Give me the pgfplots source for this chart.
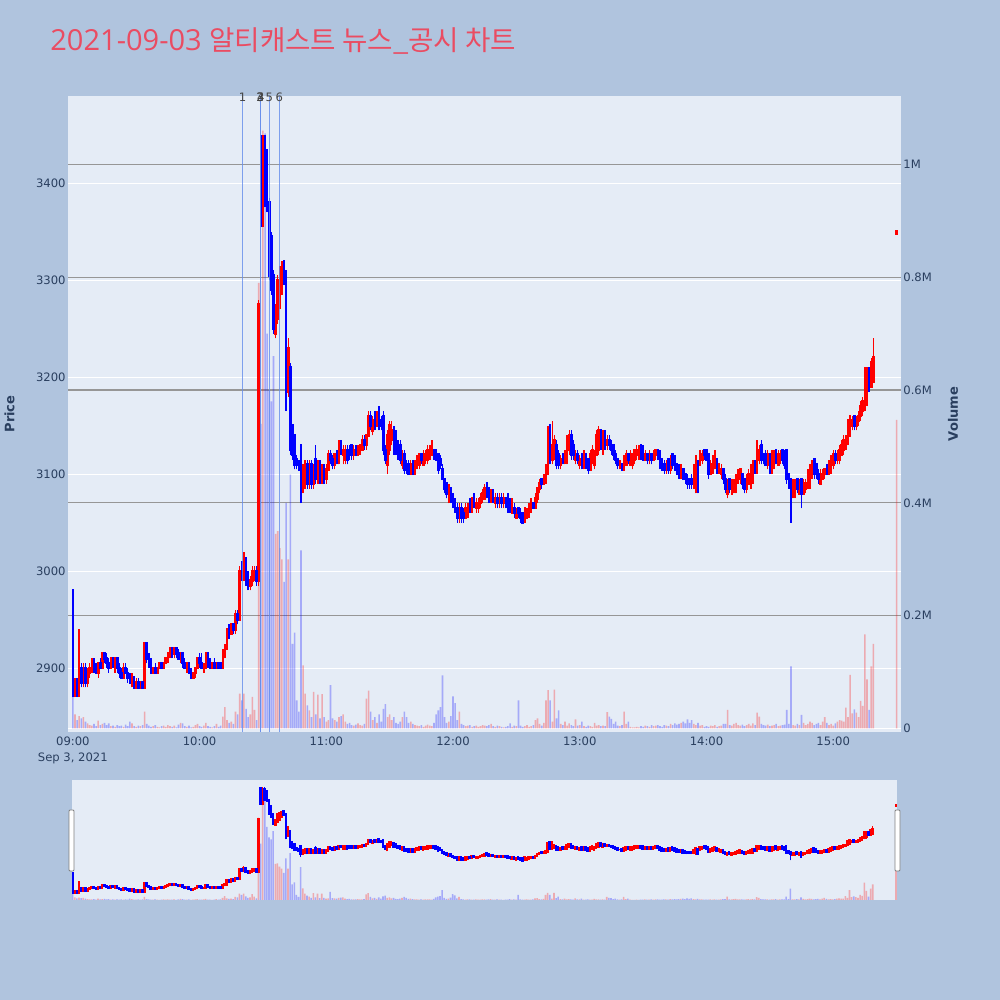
\documentclass[border=0pt]{standalone}
\usepackage{pgfplots}
\usepackage{pgfplotstable}
\usepackage{fontspec}
\pgfplotsset{compat=1.18}
\setmainfont{DejaVu Sans}
\newfontfamily\titlefont{Open Sans}
\newfontfamily\cjk{Noto Sans CJK KR}

\definecolor{pagebg}{RGB}{176,196,222}
\definecolor{plotbg}{RGB}{229,236,246}
\definecolor{upred}{RGB}{255,0,0}
\definecolor{downblue}{RGB}{0,0,255}
\definecolor{ticktext}{RGB}{42,63,95}
\definecolor{titlered}{RGB}{234,76,98}
\definecolor{volgrid}{RGB}{150,150,150}
\definecolor{newsline}{RGB}{100,140,235}
\definecolor{newstext}{RGB}{68,68,68}

\tikzset{newslab/.style={font=\fontsize{5.8}{7}\selectfont, text=newstext, inner sep=0pt}}

% one row per minute after 09:00: open, high, low, close, volume
\pgfplotstableread{
t o h l c v
0 2980 2980 2870 2875 60000
1 2875 2890 2870 2880 25000
2 2880 2890 2870 2875 15000
3 2875 2940 2870 2900 22000
4 2900 2905 2880 2885 18000
5 2885 2905 2880 2900 20000
6 2900 2905 2880 2885 12000
7 2885 2900 2880 2895 9000
8 2895 2905 2890 2900 6000
9 2900 2910 2895 2905 5000
10 2905 2910 2895 2900 8000
11 2900 2905 2895 2895 4000
12 2895 2905 2890 2905 14000
13 2905 2910 2900 2900 6000
14 2900 2915 2900 2915 8000
15 2915 2915 2905 2910 10000
16 2910 2915 2900 2905 6000
17 2905 2910 2895 2900 9000
18 2900 2910 2900 2910 4000
19 2910 2910 2900 2905 5000
20 2905 2910 2895 2910 3000
21 2910 2910 2895 2900 6000
22 2900 2905 2890 2895 4000
23 2895 2900 2890 2890 5000
24 2890 2905 2890 2900 3000
25 2900 2905 2895 2895 7000
26 2895 2900 2885 2890 4000
27 2890 2895 2885 2885 12000
28 2885 2895 2880 2890 9000
29 2890 2890 2880 2880 4000
30 2880 2890 2880 2885 3000
31 2885 2890 2880 2880 5000
32 2880 2885 2880 2885 4000
33 2885 2885 2880 2880 6000
34 2880 2925 2880 2925 30000
35 2925 2925 2905 2910 8000
36 2910 2915 2900 2905 5000
37 2905 2910 2895 2895 3000
38 2895 2900 2895 2900 4000
39 2900 2905 2895 2895 6000
40 2895 2900 2895 2900 3000
41 2900 2905 2900 2905 2000
42 2905 2905 2900 2900 4000
43 2900 2905 2900 2905 5000
44 2905 2910 2905 2910 3000
45 2910 2915 2905 2915 6000
46 2915 2920 2910 2920 4000
47 2920 2920 2910 2915 3000
48 2915 2920 2910 2920 5000
49 2920 2920 2910 2915 2000
50 2915 2920 2910 2910 7000
51 2910 2915 2905 2915 10000
52 2915 2915 2900 2905 9000
53 2905 2910 2900 2900 4000
54 2900 2905 2895 2905 3000
55 2905 2905 2895 2895 5000
56 2895 2900 2890 2890 2000
57 2890 2895 2890 2895 3000
58 2895 2900 2890 2900 6000
59 2900 2910 2900 2910 8000
60 2910 2915 2900 2905 4000
61 2905 2915 2900 2900 3000
62 2900 2905 2895 2900 5000
63 2900 2915 2900 2915 10000
64 2915 2915 2900 2905 4000
65 2905 2910 2900 2900 3000
66 2900 2905 2900 2905 2000
67 2905 2910 2900 2900 4000
68 2900 2905 2900 2905 8000
69 2905 2905 2900 2900 3000
70 2905 2905 2900 2900 5000
71 2900 2920 2900 2915 21000
72 2915 2925 2910 2920 38000
73 2920 2940 2920 2940 15000
74 2940 2945 2930 2935 10000
75 2935 2945 2935 2945 12000
76 2945 2945 2935 2940 8000
77 2940 2960 2935 2955 30000
78 2955 2960 2945 2950 25000
79 2950 3005 2950 3000 62000
80 3000 3010 2990 2995 50000
81 2995 3020 2990 3010 62000
82 3010 3015 2985 2990 35000
83 2990 3000 2980 2985 20000
84 2985 2995 2980 2990 25000
85 2990 3005 2985 3000 56000
86 2995 3005 2990 3000 33000
87 3000 3005 2985 2990 15000
88 2990 3280 2985 3275 790000
89 3445 3450 3355 3360 540000
90 3360 3450 3355 3440 1060000
91 3440 3450 3375 3380 1055000
92 3430 3435 3370 3375 700000
93 3380 3385 3300 3305 600000
94 3345 3350 3285 3290 580000
95 3305 3310 3245 3250 660000
96 3245 3275 3240 3270 345000
97 3260 3305 3255 3300 350000
98 3275 3315 3270 3310 320000
99 3290 3320 3285 3315 300000
100 3320 3320 3295 3300 260000
101 3305 3310 3165 3175 400000
102 3185 3240 3180 3230 300000
103 3210 3215 3120 3125 450000
104 3150 3150 3115 3120 150000
105 3140 3140 3105 3110 170000
106 3115 3120 3105 3110 50000
107 3110 3115 3105 3105 30000
108 3130 3130 3070 3085 316000
109 3085 3110 3080 3105 112000
110 3095 3115 3085 3110 62000
111 3110 3115 3085 3090 41000
112 3090 3115 3085 3110 32000
113 3110 3115 3085 3090 20000
114 3090 3110 3085 3105 65000
115 3115 3130 3090 3095 25000
116 3095 3115 3090 3110 60000
117 3110 3115 3090 3095 18000
118 3095 3110 3090 3105 61000
119 3105 3110 3090 3095 20000
120 3095 3110 3090 3105 12000
121 3105 3125 3105 3120 15000
122 3120 3125 3110 3115 77000
123 3115 3120 3105 3110 18000
124 3110 3120 3105 3120 15000
125 3120 3125 3110 3115 12000
126 3115 3135 3110 3130 20000
127 3130 3135 3120 3125 22000
128 3120 3130 3110 3125 25000
129 3115 3130 3110 3125 12000
130 3125 3130 3110 3115 8000
131 3125 3130 3115 3120 10000
132 3130 3130 3115 3120 6000
133 3120 3130 3115 3125 5000
134 3125 3130 3120 3120 7000
135 3120 3130 3120 3125 9000
136 3125 3130 3120 3130 6000
137 3125 3140 3125 3135 5000
138 3135 3140 3125 3130 8000
139 3130 3140 3125 3140 53000
140 3140 3165 3140 3160 67000
141 3160 3165 3145 3150 30000
142 3145 3160 3140 3155 15000
143 3160 3165 3145 3150 20000
144 3150 3165 3150 3160 10000
145 3165 3170 3145 3150 25000
146 3155 3160 3145 3150 12000
147 3160 3165 3120 3125 35000
148 3125 3130 3110 3115 43000
149 3110 3145 3100 3140 20000
150 3125 3155 3120 3150 25000
151 3135 3155 3130 3145 15000
152 3145 3150 3120 3125 20000
153 3140 3145 3120 3125 10000
154 3130 3135 3115 3120 8000
155 3130 3135 3110 3115 12000
156 3110 3125 3105 3120 20000
157 3120 3125 3100 3105 30000
158 3110 3115 3100 3105 20000
159 3110 3115 3100 3100 10000
160 3100 3115 3100 3110 12000
161 3110 3115 3100 3100 8000
162 3100 3115 3100 3110 6000
163 3110 3120 3105 3115 5000
164 3110 3120 3105 3120 4000
165 3120 3120 3110 3115 6000
166 3110 3125 3110 3120 3000
167 3115 3125 3110 3120 5000
168 3115 3130 3110 3125 7000
169 3120 3130 3115 3125 5000
170 3120 3135 3120 3130 4000
171 3125 3125 3115 3120 10000
172 3125 3125 3115 3115 25000
173 3120 3120 3100 3105 32000
174 3115 3120 3105 3110 38000
175 3105 3110 3095 3095 94000
176 3095 3095 3080 3085 20000
177 3090 3090 3075 3080 10000
178 3075 3090 3070 3085 12000
179 3085 3085 3070 3075 22000
180 3075 3080 3065 3070 57000
181 3070 3075 3060 3065 45000
182 3065 3070 3050 3055 15000
183 3055 3070 3050 3065 30000
184 3065 3070 3050 3055 8000
185 3060 3065 3050 3055 6000
186 3055 3070 3055 3065 4000
187 3060 3070 3055 3065 5000
188 3070 3075 3060 3065 6000
189 3065 3075 3060 3075 3000
190 3075 3080 3065 3070 4000
191 3065 3075 3060 3070 5000
192 3065 3075 3060 3070 3000
193 3070 3080 3065 3075 4000
194 3075 3085 3070 3080 6000
195 3075 3090 3075 3085 5000
196 3090 3090 3075 3080 4000
197 3085 3085 3070 3075 6000
198 3075 3085 3070 3080 8000
199 3080 3085 3070 3075 4000
200 3070 3080 3065 3075 3000
201 3075 3080 3065 3070 5000
202 3070 3080 3065 3075 4000
203 3075 3080 3065 3070 3000
204 3070 3080 3065 3075 2000
205 3075 3075 3065 3070 3000
206 3075 3080 3060 3065 4000
207 3070 3075 3060 3065 9000
208 3060 3075 3060 3070 3000
209 3065 3070 3055 3060 5000
210 3055 3065 3055 3060 4000
211 3065 3065 3055 3060 50000
212 3060 3065 3050 3055 5000
213 3060 3060 3050 3050 3000
214 3055 3065 3050 3065 4000
215 3055 3065 3055 3060 6000
216 3060 3070 3055 3065 3000
217 3065 3075 3060 3070 4000
218 3070 3070 3065 3065 6000
219 3065 3080 3065 3075 15000
220 3075 3085 3070 3085 18000
221 3085 3095 3080 3090 8000
222 3095 3095 3085 3090 5000
223 3090 3100 3090 3095 10000
224 3095 3110 3090 3100 50000
225 3100 3150 3100 3145 68000
226 3150 3150 3110 3115 50000
227 3115 3155 3110 3130 12000
228 3120 3140 3115 3135 69000
229 3130 3135 3105 3110 18000
230 3120 3125 3105 3110 32000
231 3110 3120 3105 3115 8000
232 3120 3120 3110 3115 6000
233 3115 3125 3110 3120 12000
234 3115 3140 3110 3135 5000
235 3125 3145 3120 3140 9000
236 3140 3145 3115 3120 6000
237 3130 3135 3115 3120 4000
238 3115 3125 3110 3120 16000
239 3120 3125 3110 3115 5000
240 3110 3120 3105 3115 6000
241 3120 3120 3105 3110 12000
242 3110 3125 3105 3120 4000
243 3120 3120 3105 3110 3000
244 3115 3115 3100 3105 5000
245 3105 3125 3105 3120 4000
246 3115 3130 3110 3125 3000
247 3110 3125 3105 3120 10000
248 3120 3145 3120 3140 5000
249 3125 3150 3120 3145 6000
250 3145 3145 3125 3130 4000
251 3125 3145 3120 3140 5000
252 3140 3145 3125 3130 4000
253 3130 3140 3125 3135 29000
254 3135 3140 3125 3130 21000
255 3130 3135 3120 3125 17000
256 3130 3130 3115 3120 8000
257 3120 3125 3110 3115 12000
258 3115 3115 3105 3110 5000
259 3110 3115 3105 3110 4000
260 3110 3110 3105 3105 6000
261 3105 3120 3105 3115 30000
262 3110 3125 3110 3120 8000
263 3120 3120 3110 3115 12000
264 3110 3125 3110 3120 3000
265 3110 3120 3105 3120 2000
266 3115 3125 3110 3125 2000
267 3120 3130 3115 3125 3000
268 3120 3130 3115 3125 2000
269 3130 3130 3115 3120 4000
270 3125 3130 3115 3115 3000
271 3115 3125 3115 3120 5000
272 3120 3120 3110 3115 4000
273 3115 3125 3110 3120 3000
274 3120 3120 3110 3115 6000
275 3115 3125 3115 3120 4000
276 3120 3125 3115 3125 5000
277 3125 3125 3115 3120 6000
278 3120 3125 3105 3110 4000
279 3115 3115 3105 3105 3000
280 3110 3115 3100 3105 6000
281 3105 3115 3100 3110 5000
282 3115 3115 3100 3105 4000
283 3105 3120 3100 3115 8000
284 3120 3120 3105 3110 6000
285 3115 3120 3105 3105 9000
286 3110 3110 3100 3100 7000
287 3105 3110 3095 3100 8000
288 3100 3110 3095 3105 10000
289 3105 3105 3095 3095 12000
290 3100 3100 3090 3095 9000
291 3095 3100 3085 3090 16000
292 3095 3095 3085 3090 10000
293 3095 3100 3085 3090 15000
294 3090 3110 3085 3105 8000
295 3095 3120 3080 3115 6000
296 3110 3115 3080 3085 10000
297 3110 3125 3110 3120 5000
298 3115 3125 3110 3120 6000
299 3125 3125 3115 3120 3000
300 3125 3125 3115 3115 4000
301 3120 3120 3095 3100 3000
302 3100 3115 3100 3110 5000
303 3105 3120 3100 3115 4000
304 3110 3125 3105 3120 6000
305 3115 3115 3100 3105 3000
306 3105 3110 3100 3110 4000
307 3100 3110 3095 3105 5000
308 3105 3105 3090 3095 8000
309 3095 3100 3080 3085 8000
310 3080 3095 3075 3090 33000
311 3095 3095 3080 3085 6000
312 3080 3095 3080 3090 5000
313 3085 3095 3080 3090 8000
314 3085 3100 3080 3095 10000
315 3095 3105 3090 3100 6000
316 3095 3105 3090 3105 5000
317 3100 3100 3085 3090 7000
318 3095 3095 3080 3085 4000
319 3085 3100 3080 3095 6000
320 3090 3105 3090 3100 8000
321 3095 3110 3085 3105 5000
322 3095 3115 3090 3110 9000
323 3110 3115 3100 3105 6000
324 3105 3135 3100 3125 28000
325 3115 3130 3110 3125 21000
326 3130 3135 3110 3115 8000
327 3120 3120 3110 3115 6000
328 3120 3125 3110 3110 5000
329 3110 3125 3105 3120 7000
330 3120 3120 3100 3105 4000
331 3105 3125 3100 3120 5000
332 3110 3125 3105 3120 6000
333 3125 3125 3110 3115 8000
334 3110 3125 3110 3120 4000
335 3115 3125 3110 3120 5000
336 3125 3125 3110 3115 6000
337 3120 3125 3105 3110 7000
338 3125 3125 3090 3095 33000
339 3100 3100 3085 3090 8000
340 3095 3095 3050 3085 110000
341 3080 3095 3075 3090 6000
342 3080 3095 3075 3090 5000
343 3095 3095 3080 3085 8000
344 3080 3095 3080 3090 6000
345 3095 3095 3065 3080 24000
346 3080 3095 3080 3090 10000
347 3085 3095 3080 3090 6000
348 3090 3105 3085 3100 8000
349 3095 3110 3085 3105 12000
350 3100 3115 3095 3110 10000
351 3115 3115 3095 3100 6000
352 3110 3110 3095 3100 8000
353 3100 3105 3090 3095 10000
354 3090 3105 3090 3100 6000
355 3095 3105 3095 3100 12000
356 3100 3105 3095 3105 20000
357 3105 3110 3100 3100 10000
358 3100 3115 3100 3110 6000
359 3105 3120 3100 3115 8000
360 3110 3125 3105 3120 5000
361 3120 3125 3110 3115 9000
362 3115 3125 3110 3120 12000
363 3115 3130 3110 3125 15000
364 3120 3135 3120 3130 14000
365 3125 3140 3120 3135 12000
366 3130 3140 3125 3135 37000
367 3135 3155 3130 3155 20000
368 3140 3160 3140 3160 95000
369 3150 3160 3145 3155 27000
370 3160 3160 3145 3150 34000
371 3150 3160 3145 3155 28000
372 3155 3165 3150 3160 20000
373 3160 3175 3155 3170 49000
374 3165 3180 3160 3175 40000
375 3175 3210 3165 3205 167000
376 3180 3210 3170 3200 87000
377 3205 3210 3185 3190 33000
378 3190 3220 3190 3215 110000
379 3195 3240 3195 3220 150000
390 3348 3350 3348 3350 547000
}\bars

\pgfplotsset{
  wickstyle/.style={only marks, mark=*, mark size=0pt,
    mark options={draw=none, fill=none}, forget plot,
    error bars/.cd, y dir=plus, y explicit, error mark=none,
    error bar style={line width=0.7pt, #1}},
  bodystyle/.style={only marks, mark=*, mark size=0pt,
    mark options={draw=none, fill=none}, forget plot,
    error bars/.cd, y dir=plus, y explicit, error mark=none,
    error bar style={line width=1.3pt, line cap=rect, #1}},
  volstyle/.style={ybar, bar width=0.75, bar shift=0pt, draw=none,
    fill=#1, fill opacity=0.28, forget plot},
}

\newcommand{\candleplots}{%
  \addplot[wickstyle=upred] table[x=t, y=l, y error expr={\thisrow{h}-\thisrow{l}},
    restrict expr to domain={\thisrow{c}-\thisrow{o}}{0:100000}] {\bars};
  \addplot[wickstyle=downblue] table[x=t, y=l, y error expr={\thisrow{h}-\thisrow{l}},
    restrict expr to domain={\thisrow{c}-\thisrow{o}}{-100000:-1}] {\bars};
  \addplot[bodystyle=upred] table[x=t, y=o, y error expr={\thisrow{c}-\thisrow{o}},
    restrict expr to domain={\thisrow{c}-\thisrow{o}}{0:100000}] {\bars};
  \addplot[bodystyle=downblue] table[x=t, y=c, y error expr={\thisrow{o}-\thisrow{c}},
    restrict expr to domain={\thisrow{c}-\thisrow{o}}{-100000:-1}] {\bars};
}
\newcommand{\volumeplots}{%
  \addplot[volstyle=upred] table[x=t, y=v,
    restrict expr to domain={\thisrow{c}-\thisrow{o}}{0:100000}] {\bars};
  \addplot[volstyle=downblue] table[x=t, y=v,
    restrict expr to domain={\thisrow{c}-\thisrow{o}}{-100000:-1}] {\bars};
}

\begin{document}
\begin{tikzpicture}
\fill[pagebg] (0,0) rectangle (500pt,500pt);
\path[use as bounding box] (0,0) rectangle (500pt,500pt);

\node[anchor=base west, text=titlered, inner sep=0pt] at (25pt,474.5pt)
  {\titlefont\fontsize{14.5}{17}\selectfont 2021-09-03 {\cjk\fontsize{13.8}{17}\selectfont 알티캐스트 뉴스\_공시 차트}};

% price axis: background, white grid, left ticks
\begin{axis}[
  at={(34pt,134pt)}, anchor=south west,
  width=416.5pt, height=318pt, scale only axis,
  xmin=-2.3, xmax=392.1, ymin=2834, ymax=3490,
  axis background/.style={fill=plotbg},
  axis line style={draw=none}, major tick length=0pt,
  ytick={2900,3000,...,3400},
  ymajorgrids, grid style={white, line width=0.5pt},
  xtick={0,60,...,360},
  xticklabels={{09:00\\Sep 3, 2021},10:00,11:00,12:00,13:00,14:00,15:00},
  xticklabel style={align=center, font=\fontsize{5.8}{8}\selectfont, text=ticktext, inner sep=2pt},
  yticklabel style={font=\fontsize{5.8}{7}\selectfont, text=ticktext, inner sep=1pt,
    /pgf/number format/1000 sep={}, /pgf/number format/assume math mode=true},
  ylabel={Price},
  every axis y label/.style={at={(axis description cs:-0.0702,0.5)}, rotate=90, anchor=center,
    font=\bfseries\fontsize{6.5}{8}\selectfont, text=ticktext},
]
\end{axis}

% volume axis: gray grid, right ticks, bars
\begin{axis}[
  at={(34pt,134pt)}, anchor=south west,
  width=416.5pt, height=318pt, scale only axis,
  xmin=-2.3, xmax=392.1, ymin=-6200, ymax=1121400,
  hide x axis, axis y line*=right,
  axis line style={draw=none}, major tick length=0pt,
  scaled y ticks=false,
  ytick={200000,400000,600000,800000,1000000},
  yticklabels={0.2M,0.4M,0.6M,0.8M,1M},
  extra y ticks={0}, extra y tick labels={0},
  extra y tick style={grid style={white, line width=0.8pt}},
  ymajorgrids, grid style={volgrid, line width=0.6pt},
  yticklabel style={font=\fontsize{5.8}{7}\selectfont, text=ticktext, inner sep=1pt},
  ylabel={Volume},
  every axis y label/.style={at={(axis description cs:1.0624,0.5)}, rotate=90, anchor=center,
    font=\bfseries\fontsize{6.5}{8}\selectfont, text=ticktext},
]
\volumeplots
\end{axis}

% candles and news markers
\begin{axis}[
  at={(34pt,134pt)}, anchor=south west,
  width=416.5pt, height=318pt, scale only axis,
  xmin=-2.3, xmax=392.1, ymin=2834, ymax=3490,
  hide axis, clip mode=individual,
]
\candleplots
\addplot[newsline, line width=0.5pt, opacity=0.8, forget plot] coordinates {(80.3,2834) (80.3,3490)};
\addplot[newsline, line width=0.5pt, opacity=0.8, forget plot] coordinates {(88.9,2834) (88.9,3490)};
\addplot[newsline, line width=0.5pt, opacity=0.8, forget plot] coordinates {(89.0,2834) (89.0,3490)};
\addplot[newsline, line width=0.5pt, opacity=0.8, forget plot] coordinates {(93.0,2834) (93.0,3490)};
\addplot[newsline, line width=0.5pt, opacity=0.8, forget plot] coordinates {(97.7,2834) (97.7,3490)};
\node[newslab, yshift=-0.5pt] at (axis cs:80.3,3490) {1};
\node[newslab, yshift=-0.5pt] at (axis cs:88.6,3490) {2};
\node[newslab, yshift=-0.5pt] at (axis cs:88.9,3490) {3};
\node[newslab, yshift=-0.5pt] at (axis cs:89.0,3490) {4};
\node[newslab, yshift=-0.5pt] at (axis cs:93.0,3490) {5};
\node[newslab, yshift=-0.5pt] at (axis cs:97.7,3490) {6};
\end{axis}

% range slider
\fill[plotbg] (36pt,50pt) rectangle (448.5pt,110pt);
\begin{axis}[
  at={(36pt,50pt)}, anchor=south west,
  width=412.5pt, height=60pt, scale only axis,
  xmin=-0.3, xmax=390.5, ymin=0, ymax=1150000,
  hide axis,
]
\volumeplots
\end{axis}
\begin{axis}[
  at={(36pt,50pt)}, anchor=south west,
  width=412.5pt, height=60pt, scale only axis,
  xmin=-0.3, xmax=390.5, ymin=2834, ymax=3490,
  hide axis,
]
\candleplots
\end{axis}
\draw[gray, fill=white, line width=0.4pt, rounded corners=0.5pt] (34.5pt,64.5pt) rectangle (37pt,95pt);
\draw[gray, fill=white, line width=0.4pt, rounded corners=0.5pt] (447.5pt,64.5pt) rectangle (450pt,95pt);
\end{tikzpicture}
\end{document}
